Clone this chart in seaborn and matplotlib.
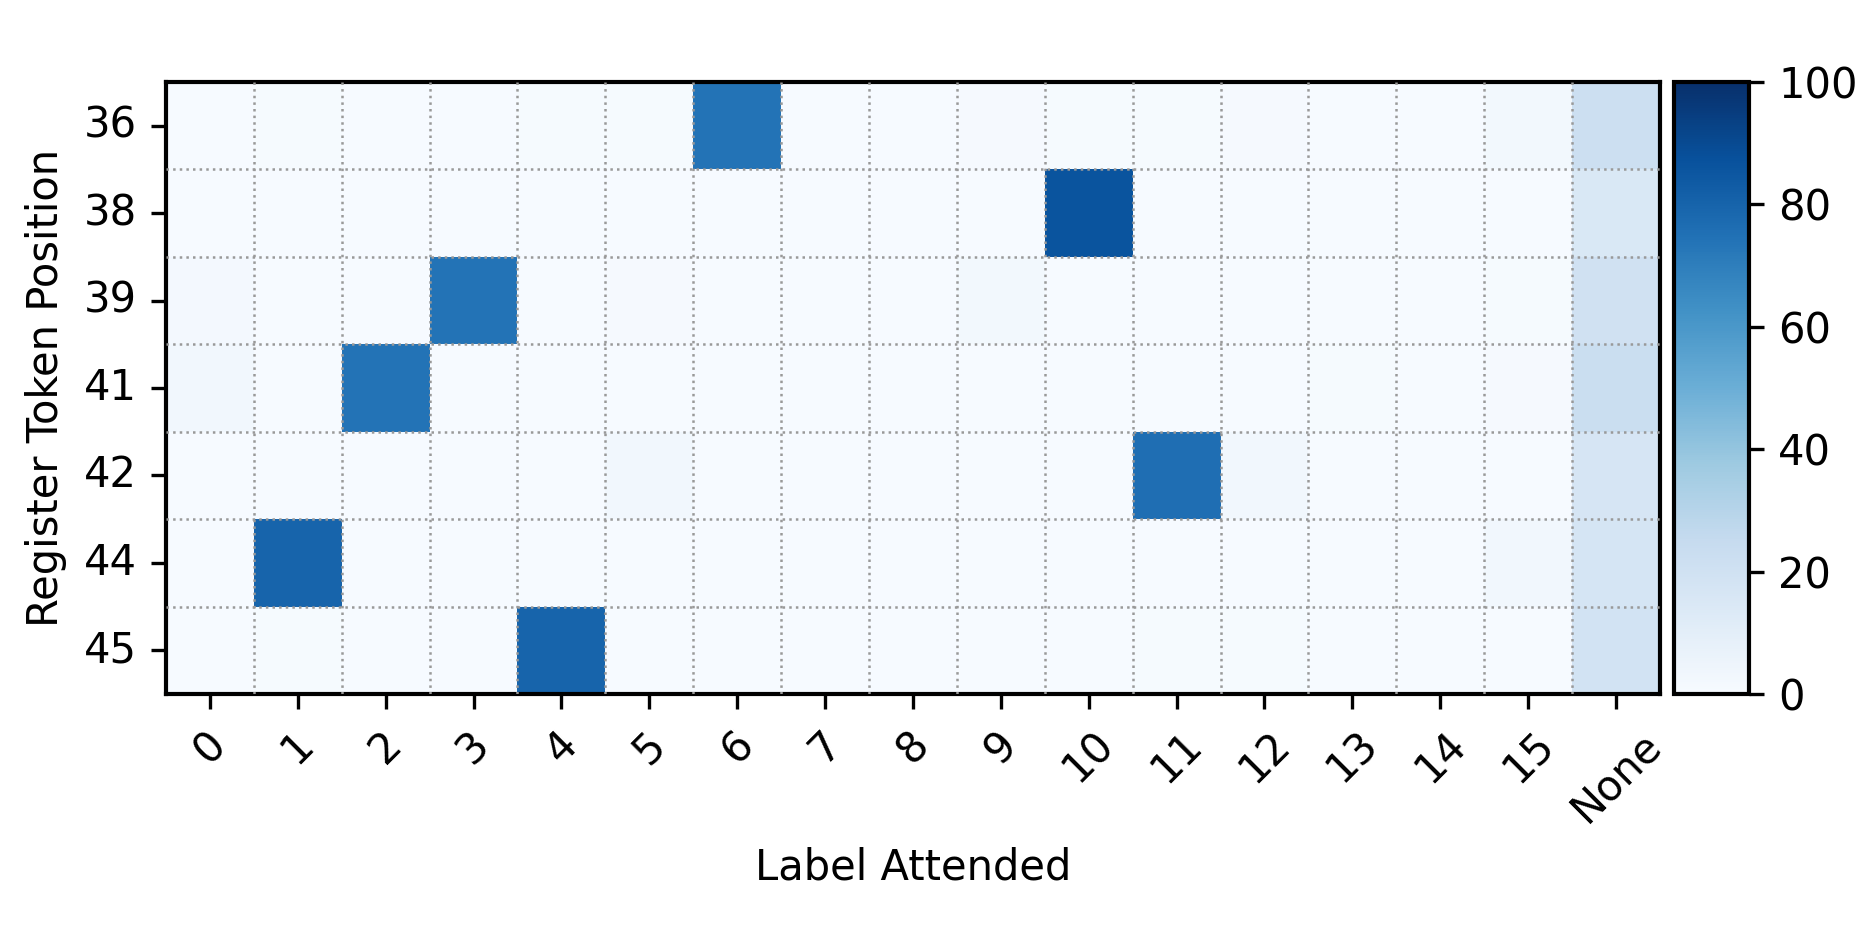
import numpy as np
import pandas as pd
import seaborn as sns
import matplotlib.pyplot as plt
from matplotlib.ticker import FixedLocator

# === DATA ===
positions = [36, 38, 39, 41, 42, 44, 45]
labels = [str(i) for i in range(16)] + ["None"]

row_36 = [0.5, 0.8, 0.5, 0.5, 0.8, 0.8, 74.0, 0.5, 0.5, 1.2, 0.8, 0.8, 1.5, 0.5, 0.5, 2.5, 22.0]
row_38 = [0.5, 0.5, 0.5, 0.5, 0.5, 0.5, 0.5, 0.5, 0.5, 0.5, 86.0, 0.5, 0.5, 0.5, 0.5, 0.5, 15.0]
row_39 = [2.0, 0.5, 0.5, 74.0, 0.5, 1.5, 0.5, 0.5, 0.5, 2.5, 0.5, 0.5, 0.5, 0.5, 0.5, 0.8, 20.0]
row_41 = [3.5, 0.5, 74.0, 0.5, 0.5, 0.5, 0.5, 0.5, 0.5, 0.5, 0.5, 0.5, 0.5, 0.8, 0.5, 1.5, 23.0]
row_42 = [0.5, 0.5, 0.5, 0.5, 0.5, 3.5, 0.5, 0.5, 0.5, 0.5, 0.5, 76.0, 3.5, 0.5, 0.5, 0.5, 17.0]
row_44 = [0.5, 80.0, 0.5, 0.5, 0.5, 0.5, 0.5, 0.5, 0.5, 0.5, 0.5, 0.5, 0.5, 0.5, 0.5, 3.5, 17.5]
row_45 = [0.5, 0.8, 0.5, 0.5, 80.0, 0.5, 0.5, 0.5, 0.5, 0.5, 0.5, 0.8, 0.8, 0.5, 0.5, 0.5, 19.0]

df = pd.DataFrame(
    [row_36, row_38, row_39, row_41, row_42, row_44, row_45],
    index=positions, columns=labels,
)

# === Plot ===
plt.rcParams["font.family"] = ["DejaVu Sans"]
plt.rcParams["font.size"] = 10

fig = plt.figure(figsize=(6.25, 3.12), dpi=300)
ax = fig.add_axes([0.0885, 0.2585, 0.7968, 0.654])
cax = fig.add_axes([0.8928, 0.2585, 0.040, 0.654])

sns.heatmap(df, cmap="Blues", vmin=0, vmax=100, ax=ax, cbar_ax=cax,
            cbar_kws={"ticks": [0, 20, 40, 60, 80, 100]})

# frame back on
for s in ax.spines.values():
    s.set_visible(True)
    s.set_linewidth(1.0)
    s.set_color("black")
cbar = ax.collections[0].colorbar
cbar.outline.set_linewidth(1.0)
cbar.outline.set_edgecolor("black")

# dotted cell grid
ax.xaxis.set_minor_locator(FixedLocator(np.arange(1, len(labels))))
ax.yaxis.set_minor_locator(FixedLocator(np.arange(1, len(positions))))
ax.tick_params(which="minor", length=0)
ax.grid(which="minor", linestyle=":", color="#999999", linewidth=0.6)
ax.set_axisbelow(False)

ax.tick_params(which="major", length=3.5, width=0.8, labelsize=10)
cax.tick_params(length=3.5, width=0.8, labelsize=10)
plt.setp(ax.get_xticklabels(), rotation=45, ha="center")
plt.setp(ax.get_yticklabels(), rotation=0)

ax.set_xlabel("Label Attended", fontsize=10)
ax.set_ylabel("Register Token Position", fontsize=10)

fig.savefig("out.png", dpi=300)
